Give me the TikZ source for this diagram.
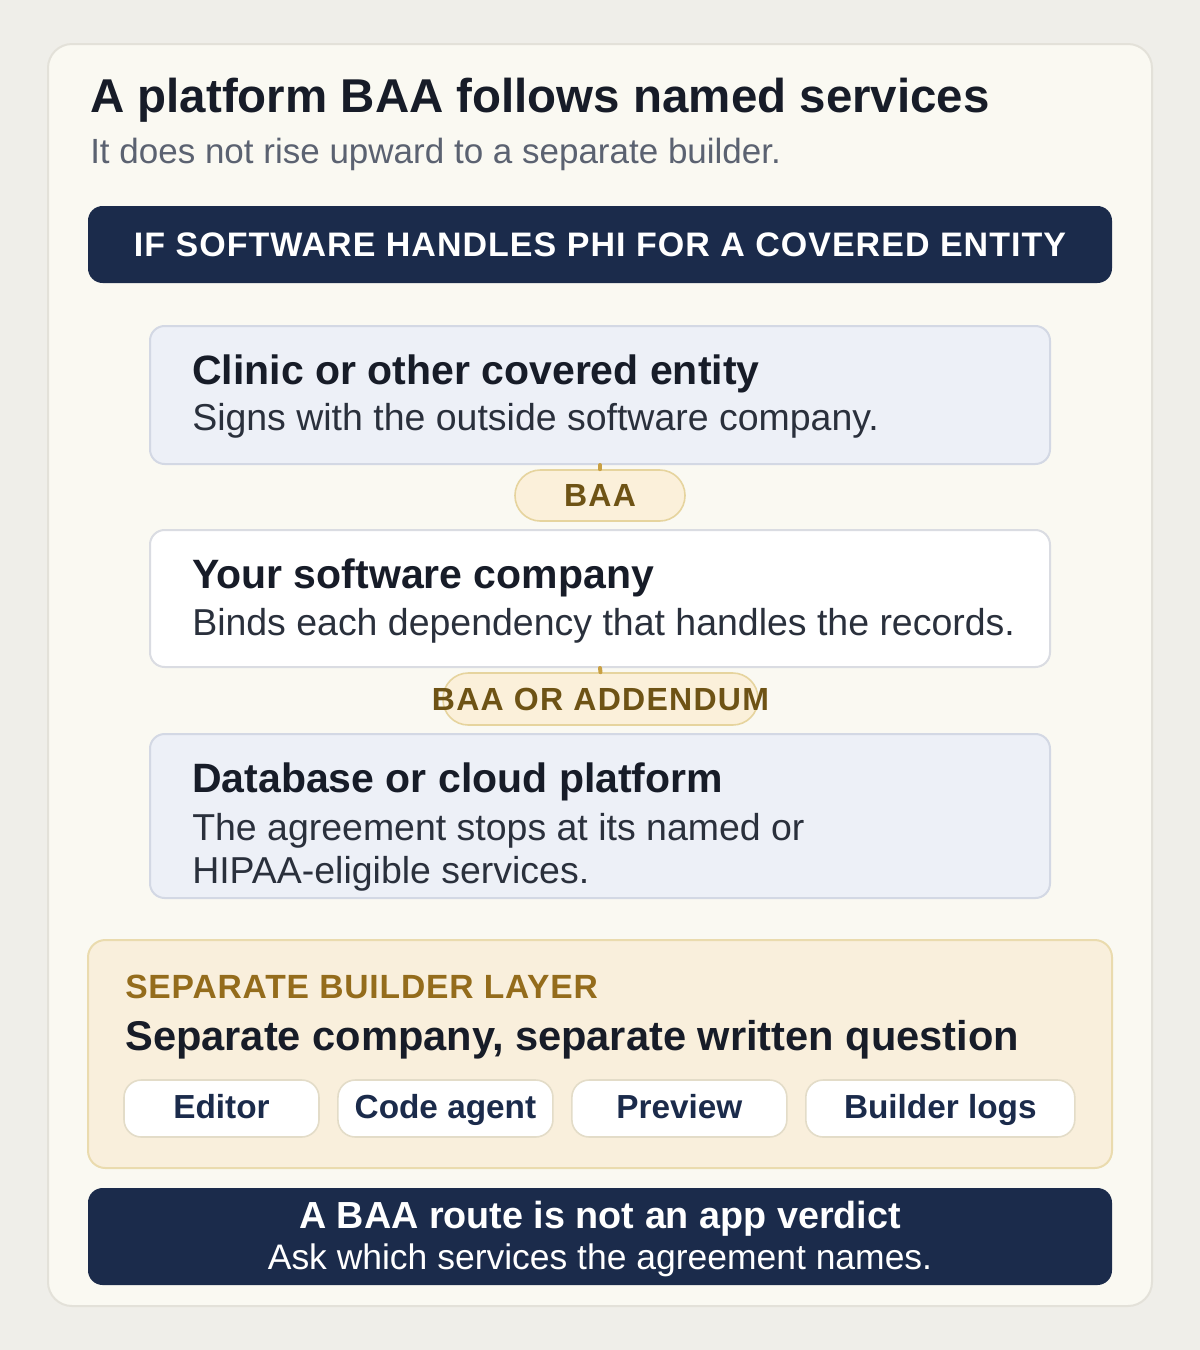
\documentclass[tikz,border=0pt]{standalone}
\usepackage{fontspec}
\setmainfont{Liberation Sans}
\newfontfamily\capsfont[LetterSpace=3]{Liberation Sans}
\newfontfamily\pillfont[LetterSpace=4]{Liberation Sans}
\newfontfamily\layerfont[LetterSpace=2.5]{Liberation Sans}
\usetikzlibrary{%
  positioning% wg. " of "
}
\definecolor{pagegray}{HTML}{EFEEE9}
\definecolor{cardfill}{HTML}{FAF9F2}
\definecolor{cardline}{HTML}{E3E1D9}
\definecolor{ink}{HTML}{171C28}
\definecolor{bodyink}{HTML}{2A303C}
\definecolor{greyink}{HTML}{5B6271}
\definecolor{navy}{HTML}{1B2B4B}
\definecolor{entityfill}{HTML}{EDF0F7}
\definecolor{entityline}{HTML}{D3D8E4}
\definecolor{plainline}{HTML}{DADCE2}
\definecolor{pillfill}{HTML}{FBF0DA}
\definecolor{pillline}{HTML}{E6D49E}
\definecolor{pillink}{HTML}{6E5315}
\definecolor{linkgold}{HTML}{C9A043}
\definecolor{layerfill}{HTML}{F9EFDC}
\definecolor{layerline}{HTML}{EADBAE}
\definecolor{layerink}{HTML}{946C1C}
\definecolor{chipline}{HTML}{E3DCC8}

\begin{document}
\begin{tikzpicture}[x=0.75pt,y=-0.75pt,
	card/.style={
	rectangle,rounded corners=18pt,
	line width=1.5pt,draw=cardline,fill=cardfill,
	minimum width=828pt,minimum height=946.5pt
	},banner/.style={
	rectangle,rounded corners=11pt,
	fill=navy,text=white,
	minimum width=768pt
	},entity/.style={
	rectangle,rounded corners=11pt,
	line width=1.5pt,draw=entityline,fill=entityfill,
	minimum width=675pt
	},plain/.style={
	entity,draw=plainline,fill=white
	},pill/.style={
	rectangle,rounded corners=19pt,inner xsep=0pt,
	line width=1.2pt,draw=pillline,fill=pillfill,
	text=pillink,font=\pillfont\fontsize{24}{28}\selectfont\bfseries
	},layer/.style={
	rectangle,rounded corners=13pt,
	line width=1.5pt,draw=layerline,fill=layerfill,
	minimum width=768pt,minimum height=171pt
	},chip/.style={
	rectangle,rounded corners=13pt,
	line width=1.2pt,draw=chipline,fill=white,
	minimum height=42.75pt,text height=18pt,text depth=3.75pt,
	text=navy,font=\fontsize{25}{30}\selectfont\bfseries
	},heading/.style={
	anchor=base west,inner sep=0pt,text=ink,
	font=\fontsize{30.75}{36}\selectfont\bfseries
	},detail/.style={
	anchor=base west,inner sep=0pt,text=bodyink,
	font=\fontsize{28.1}{33}\selectfont
	},link/.style={
	line width=3pt,line cap=round,draw=linkgold
	}
]
\useasboundingbox (0,0) rectangle (1200,1350);
\fill[pagegray] (0,0) rectangle (1200,1350);

\node (atomCard) [card] at (600,675) {};

% title
\node (atomTitle) [anchor=base west,inner sep=0pt,text=ink,font=\fontsize{35.6}{42}\selectfont\bfseries] at (90,112) {A platform BAA follows named services};
\node (atomSub) [anchor=base west,inner sep=0pt,text=greyink,font=\fontsize{26.25}{31}\selectfont] at (90,163) {It does not rise upward to a separate builder.};
\node (atomIf) [banner,minimum height=57.75pt,font=\capsfont\fontsize{25.5}{30}\selectfont\bfseries] at (600,244.5) {IF SOFTWARE HANDLES PHI FOR A COVERED ENTITY};

% First box
\node (atomClinic) [entity,minimum height=103.5pt] at (600,395) {};
\node (textClinic) [heading] at (192,384) {Clinic or other covered entity};
\node (subClinic) [detail] at (192,430) {Signs with the outside software company.};
\node (termBAA) [pill,minimum width=127.5pt,minimum height=38.25pt] at (600,495.5) {\makebox[0pt]{BAA}};

% Second box
\node (atomSoftware) [plain,minimum height=102.75pt] at (600,598.5) {};
\node (textSoftware) [heading] at (192,588) {Your software company};
\node (subSoftware) [detail] at (192,635) {Binds each dependency that handles the records.};
\node (termAddendum) [pill,minimum width=236.25pt,minimum height=39pt] at (600.5,699) {\makebox[0pt]{BAA OR ADDENDUM}};

% Third box
\node (atomPlatform) [entity,minimum height=123pt] at (600,816) {};
\node (textPlatform) [heading] at (192,792) {Database or cloud platform};
\node (subPlatform) [detail] at (192,840) {The agreement stops at its named or};
\node (subPlatformB) [detail] at (192,883) {HIPAA-eligible services.};

\draw[link] (atomClinic.south) -- (termBAA.north);
\draw[link] (atomSoftware.south) -- (termAddendum.north);

% builder layer
\node (atomLayer) [layer] at (600,1054) {};
\node (textLayer) [anchor=base west,inner sep=0pt,text=layerink,font=\layerfont\fontsize{25.2}{30}\selectfont\bfseries] at (125,998) {SEPARATE BUILDER LAYER};
\node (headLayer) [heading,font=\fontsize{31.2}{37}\selectfont\bfseries] at (125,1050) {Separate company, separate written question};
\node (chipEditor) [chip,minimum width=146.25pt] at (221.5,1108.5) {Editor};
\node (chipAgent) [chip,minimum width=161.25pt,right=13pt of chipEditor] {Code agent};
\node (chipPreview) [chip,minimum width=161.25pt,right=13pt of chipAgent] {Preview};
\node (chipLogs) [chip,minimum width=201.75pt,right=13pt of chipPreview] {Builder logs};

% verdict
\node (atomVerdict) [banner,minimum height=72.75pt] at (600,1236.5) {};
\node (textVerdict) [anchor=base,inner sep=0pt,text=white,font=\fontsize{28.3}{34}\selectfont\bfseries] at (600,1228) {A BAA route is not an app verdict};
\node (subVerdict) [anchor=base,inner sep=0pt,text=white,font=\fontsize{26.6}{32}\selectfont] at (600,1269) {Ask which services the agreement names.};

\end{tikzpicture}
\end{document}
